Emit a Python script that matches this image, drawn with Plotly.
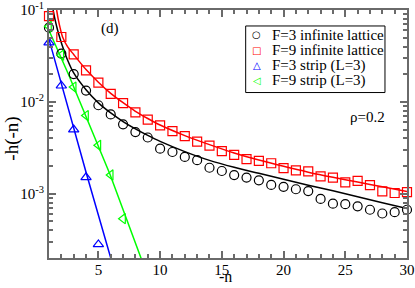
import plotly.graph_objects as go

# ---- data ----
n_inf = list(range(1, 31))
f3_inf = [0.0643, 0.0336, 0.0201, 0.0133, 0.0092, 0.0073, 0.0057, 0.0047, 0.0041, 0.0031,
          0.00285, 0.00252, 0.00232, 0.00192, 0.00177, 0.00160, 0.00150, 0.00140, 0.00125, 0.00119,
          0.00112, 0.00107, 0.00088, 0.00078, 0.00077, 0.00073, 0.00067, 0.00061, 0.00063, 0.00067]
f9_inf = [0.0858, 0.0509, 0.0329, 0.0221, 0.0162, 0.01225, 0.0097, 0.0077, 0.00643, 0.00555,
          0.00481, 0.00425, 0.00369, 0.00335, 0.00292, 0.00265, 0.00238, 0.00228, 0.00215, 0.00190,
          0.00180, 0.00175, 0.00155, 0.00150, 0.00133, 0.00138, 0.00124, 0.00106, 0.00102, 0.00104]

n_f3_strip = [1, 2, 3, 4, 5]
f3_strip = [0.0443, 0.0150, 0.0050, 0.00151, 0.000281]
n_f9_strip = [1, 2, 3, 4, 5, 6, 7]
f9_strip = [0.0664, 0.0323, 0.0145, 0.0071, 0.00337, 0.00160, 0.000536]

# fitted curves
n_f3_fit = [1.33, 1.5, 1.7, 1.93, 2.2, 2.46, 3, 4, 5, 6, 7, 8, 9, 10, 12, 14, 16, 18, 20, 22, 24, 26, 28, 30]
f3_fit = [0.1, 0.0776, 0.0603, 0.0473, 0.0367, 0.0295, 0.02065, 0.01355, 0.00977, 0.00759, 0.00612,
          0.00509, 0.00432, 0.00372, 0.00288, 0.00231, 0.00194, 0.00167, 0.00144, 0.00124, 0.00108,
          0.00093, 0.00080, 0.00069]
n_f9_fit = [1.62, 1.75, 1.9, 2.1, 2.5, 3, 4, 5, 6, 7, 8, 9, 10, 12, 14, 16, 18, 20, 22, 24, 26, 28, 30]
f9_fit = [0.1, 0.079, 0.064, 0.051, 0.040, 0.0328, 0.0225, 0.0164, 0.0124, 0.0098, 0.0079, 0.0066,
          0.0056, 0.0043, 0.00343, 0.00278, 0.00233, 0.00199, 0.00172, 0.00151, 0.00134, 0.00119, 0.00106]
n_f3_strip_fit = [1, 4.04, 6.05]
f3_strip_fit = [0.048, 0.00164, 0.00019]
n_f9_strip_fit = [1, 2.6, 5.93, 8.5]
f9_strip_fit = [0.060, 0.0196, 0.00164, 0.000192]

series_names = ["F=3 infinite lattice", "F=9 infinite lattice", "F=3 strip (L=3)", "F=9 strip (L=3)"]
series_colors = ["black", "red", "blue", "#00ff00"]
series_symbols = ["circle-open", "square-open", "triangle-up-open", "triangle-left-open"]
legend_glyphs = ["○", "□", "△", "◁"]

y_tickvals = [1e-3, 1e-2, 1e-1]
y_ticktext = ["10<sup>-3</sup>", "10<sup>-2</sup>", "10<sup>-1</sup>"]
y_minor = [m * 10 ** e for e in (-4, -3, -2) for m in range(2, 10)]

FONT = "Liberation Serif, Times New Roman, Times, serif"
AX = "#6a6a6a"

fig = go.Figure()

# fitted lines
for xs, ys, col, shape in [(n_f3_fit, f3_fit, series_colors[0], "spline"),
                           (n_f9_fit, f9_fit, series_colors[1], "spline"),
                           (n_f3_strip_fit, f3_strip_fit, series_colors[2], "linear"),
                           (n_f9_strip_fit, f9_strip_fit, series_colors[3], "linear")]:
    fig.add_trace(go.Scatter(x=xs, y=ys, mode="lines", showlegend=False, hoverinfo="skip",
                             line=dict(color=col, width=1.5, shape=shape, smoothing=0.8)))

# data markers
for (xs, ys), col, sym, name in zip([(n_inf, f3_inf), (n_inf, f9_inf), (n_f3_strip, f3_strip),
                                     (n_f9_strip, f9_strip)],
                                    series_colors, series_symbols, series_names):
    fig.add_trace(go.Scatter(x=xs, y=ys, mode="markers", name=name, cliponaxis=False, showlegend=False,
                             marker=dict(symbol=sym, size=9, color=col, line=dict(width=1.2, color=col))))

axis_common = dict(showline=True, linecolor=AX, linewidth=2, mirror="allticks", ticks="inside",
                   ticklen=7, tickwidth=1.5, tickcolor=AX, showgrid=False, zeroline=False,
                   automargin=False,
                   tickfont=dict(family=FONT, size=15, color="black"))

fig.update_xaxes(range=[1, 30], tick0=0, dtick=5, ticklabelstandoff=-3,
                 minor=dict(ticks="inside", ticklen=4, tickwidth=1.5, tickcolor=AX, dtick=1, tick0=0, showgrid=False),
                 **axis_common)
fig.update_yaxes(type="log", range=[-3.699, -0.9995], tickmode="array", tickvals=y_tickvals, ticktext=y_ticktext,
                 minor=dict(ticks="inside", ticklen=4, tickwidth=1.5, tickcolor=AX, tickmode="array",
                            tickvals=y_minor, showgrid=False),
                 **axis_common)

# legend (boxed key in the upper right)
leg_rows = [0.8994, 0.8378, 0.7763, 0.7143]
annotations = []
for glyph, name, col, yy in zip(legend_glyphs, series_names, series_colors, leg_rows):
    annotations.append(dict(text=glyph, x=0.5802, y=yy, xref="paper", yref="paper", showarrow=False,
                            xanchor="center", yanchor="middle",
                            font=dict(family="DejaVu Sans", size=10, color=col)))
    annotations.append(dict(text=name, x=0.6165, y=yy, xref="paper", yref="paper", showarrow=False,
                            xanchor="left", yanchor="middle",
                            font=dict(family=FONT, size=15, color="black")))

annotations += [
    dict(text="(d)", x=0.169, y=0.9235, xref="paper", yref="paper", showarrow=False,
         xanchor="center", yanchor="middle", font=dict(family=FONT, size=15)),
    dict(text="ρ=0.2", x=0.8897, y=0.5694, xref="paper", yref="paper", showarrow=False,
         xanchor="center", yanchor="middle", font=dict(family=FONT, size=15)),
    dict(text="-n", x=0.494, y=-0.1187, xref="paper", yref="paper", showarrow=False,
         xanchor="center", yanchor="bottom", font=dict(family=FONT, size=16)),
    dict(text="-h(-n)", x=-0.102, y=0.483, xref="paper", yref="paper", showarrow=False,
         xanchor="center", yanchor="middle", textangle=-90, font=dict(family=FONT, size=19)),
]

fig.update_layout(
    width=415, height=288,
    margin=dict(l=49, r=8, t=10, b=29.5, autoexpand=False),
    paper_bgcolor="white", plot_bgcolor="white",
    font=dict(family=FONT, size=15, color="black"),
    showlegend=False,
    shapes=[dict(type="rect", xref="paper", yref="paper", x0=0.5494, x1=0.9385, y0=0.6672, y1=0.9356,
                 line=dict(color="black", width=1), fillcolor="white", layer="above")],
    annotations=annotations,
)

fig.write_html("out.html", config={"displayModeBar": False},
               post_script="document.body.style.margin='0';document.body.style.padding='0';")
